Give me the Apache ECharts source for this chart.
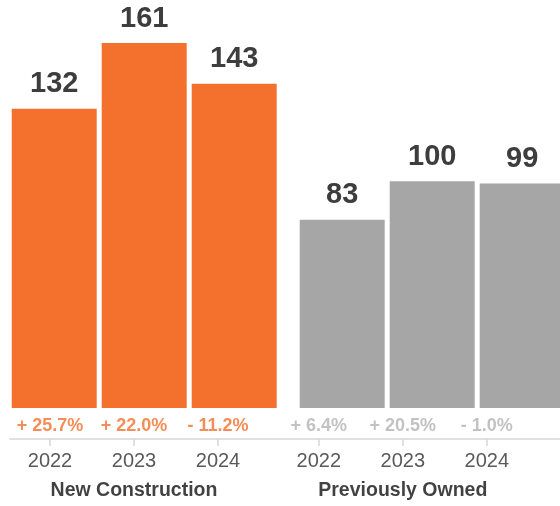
<!DOCTYPE html>
<html>
<head>
<meta charset="utf-8">
<script src="https://cdn.jsdelivr.net/npm/echarts@6/dist/echarts.min.js"></script>
<style>
  html, body { margin: 0; padding: 0; background: #fff; }
  #chart { width: 560px; height: 506px; }
</style>
</head>
<body>
<div id="chart"></div>
<script>
// Home sales by type, indexed values per year
const groups = ['New Construction', 'Previously Owned'];
const years = ['2022', '2023', '2024'];
const newConstruction = [132, 161, 143];
const previouslyOwned = [83, 100, 99];
const newChange = ['+ 25.7%', '+ 22.0%', '- 11.2%'];
const ownedChange = ['+ 6.4%', '+ 20.5%', '- 1.0%'];

const ORANGE = '#f3702d';
const GREY = '#a6a6a6';
const FONT = '"Liberation Sans", Arial, Helvetica, sans-serif';

// Layout: each group takes three slots, with a small gap between groups
const GROUP_GAP = 0.2;
const slot = (g, i) => g * (years.length + GROUP_GAP) + i;

const GRID_LEFT = 10;
const GRID_WIDTH = 550;
// bar axis: 90px per slot, first slot centred at x=54
const barMin = -(54.2 - GRID_LEFT) / 90;
const barMax = barMin + GRID_WIDTH / 90;
// label axis: 84px per slot, first slot centred at x=50
const tickMin = -(50 - GRID_LEFT) / 84;
const tickMax = tickMin + GRID_WIDTH / 84;

const tickValues = [];
const tickText = [];
groups.forEach((name, g) => {
  years.forEach((y, i) => {
    tickValues.push(slot(g, i));
    tickText.push(y);
  });
});
const labelFor = v => {
  const k = tickValues.findIndex(t => Math.abs(t - v) < 1e-6);
  return k < 0 ? '' : tickText[k];
};

const barData = (vals, g) => vals.map((v, i) => [slot(g, i), v]);
const changeData = (texts, g) => texts.map((t, i) => ({ value: [slot(g, i), 0], name: t }));
// group titles sit under the middle year of each group
const groupData = groups.map((name, g) => ({ value: [slot(g, 1), 0], name: name }));

const barLabel = {
  show: true,
  position: 'top',
  distance: 10,
  fontFamily: FONT,
  fontSize: 29,
  fontWeight: 'bold',
  color: '#3d3d3d',
  formatter: p => p.value[1]
};

const textSeries = (data, dy, style) => ({
  type: 'scatter',
  xAxisIndex: 1,
  yAxisIndex: 0,
  silent: true,
  symbolSize: 1,
  itemStyle: { color: 'rgba(0,0,0,0)' },
  data: data,
  label: Object.assign({
    show: true,
    position: 'inside',
    offset: [0, dy],
    fontFamily: FONT,
    formatter: p => p.name
  }, style)
});

const chart = echarts.init(document.getElementById('chart'), null, { renderer: 'canvas' });
chart.setOption({
  animation: false,
  backgroundColor: '#fff',
  grid: { left: GRID_LEFT, width: GRID_WIDTH, top: 0, bottom: 98 },
  xAxis: [
    {
      type: 'value',
      min: barMin,
      max: barMax,
      show: false
    },
    {
      type: 'value',
      min: tickMin,
      max: tickMax,
      position: 'bottom',
      offset: 31,
      splitLine: { show: false },
      axisLine: { show: true, lineStyle: { color: '#d6d6d6', width: 1.5 } },
      axisTick: {
        show: true,
        customValues: tickValues,
        length: 7,
        lineStyle: { color: '#d6d6d6', width: 1.5 }
      },
      axisLabel: {
        customValues: tickValues,
        margin: 12,
        formatter: labelFor,
        fontFamily: FONT,
        fontSize: 20,
        color: '#5a5a5a'
      }
    }
  ],
  yAxis: { type: 'value', min: 0, max: 180, show: false },
  series: [
    {
      name: groups[0],
      type: 'bar',
      xAxisIndex: 0,
      barWidth: 85,
      itemStyle: { color: ORANGE },
      label: barLabel,
      data: barData(newConstruction, 0)
    },
    {
      name: groups[1],
      type: 'bar',
      xAxisIndex: 0,
      barWidth: 85,
      barGap: '-100%',
      itemStyle: { color: GREY },
      label: barLabel,
      data: barData(previouslyOwned, 1)
    },
    textSeries(changeData(newChange, 0), 18, { fontSize: 18, fontWeight: 'bold', color: ORANGE }),
    textSeries(changeData(ownedChange, 1), 18, { fontSize: 18, fontWeight: 'bold', color: '#b3b3b3' }),
    textSeries(groupData, 83, { fontSize: 19.5, fontWeight: 'bold', color: '#111' })
  ]
});
</script>
</body>
</html>
